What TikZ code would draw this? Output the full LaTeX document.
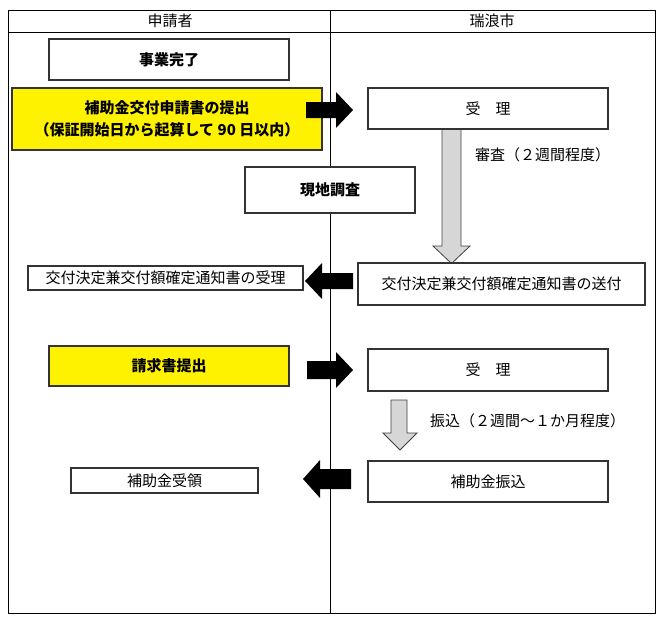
\documentclass[tikz,border=0pt]{standalone}
\usepackage{fontspec}
\setmainfont{Noto Sans CJK JP}
\usetikzlibrary{calc}
\begin{document}
\begin{tikzpicture}[x=1pt,y=-1pt,
  box/.style={draw=black!80, line width=1.1pt, fill=white, inner sep=0pt, align=center, font=\fontsize{15}{22}\selectfont},
  ybox/.style={box, fill=yellow, font=\fontsize{15}{22}\selectfont\bfseries},
  bbox/.style={box, font=\fontsize{15}{22}\selectfont\bfseries},
  lbl/.style={inner sep=0pt, font=\fontsize{15}{18}\selectfont},
  frame/.style={draw=black, line width=0.9pt},
  blk/.style={fill=black},
  gar/.style={fill=black!16, draw=black!75, line width=0.8pt, line join=miter}]
\useasboundingbox (0,0) rectangle (660,629);
% frame
\draw[frame] (8,10) rectangle (655,613);
\draw[frame] (8,32) -- (655,32);
\draw[frame] (330,10) -- (330,613);
\node[lbl] (h1) at (170,21) {申請者};
\node[lbl] (h2) at (492,21) {瑞浪市};
% grey down arrows (behind boxes)
\draw[gar] (442,128) -- (442,246) -- (433,246) -- (451.5,263.5) -- (470,246) -- (461,246) -- (461,128);
\draw[gar] (391,400) -- (391,433) -- (383,433) -- (400,450) -- (417,433) -- (407,433) -- (407,400) -- cycle;
% left column
\node[bbox, minimum width=240pt, minimum height=41pt] (done) at (169,59.5) {事業完了};
\node[ybox, minimum width=310pt, minimum height=62pt] (apply) at (167,119) {補助金交付申請書の提出\\（保証開始日から起算して 90 日以内）};
\node[bbox, minimum width=170pt, minimum height=46pt] (survey) at (330,190) {現地調査};
\node[box, minimum width=275pt, minimum height=24pt] (recv) at (165.5,278) {交付決定兼交付額確定通知書の受理};
\node[ybox, minimum width=240pt, minimum height=40pt] (claim) at (169,366) {請求書提出};
\node[box, minimum width=187pt, minimum height=25pt] (get) at (164.5,480.5) {補助金受領};
% right column
\node[box, minimum width=240pt, minimum height=41pt] (r1) at (488,108.5) {受　理};
\node[box, minimum width=287pt, minimum height=42pt] (send) at (501.5,284) {交付決定兼交付額確定通知書の送付};
\node[box, minimum width=240pt, minimum height=42pt] (r2) at (488,370) {受　理};
\node[box, minimum width=240pt, minimum height=41pt] (pay) at (488,481.5) {補助金振込};
\node[lbl, anchor=west] (l1) at (475,155) {審査（２週間程度）};
\node[lbl, anchor=west] (l2) at (430,421) {振込（２週間～１か月程度）};
% black block arrows
\coordinate (a1) at (306,110);
\coordinate (a2) at (353,281);
\coordinate (a3) at (307,370);
\coordinate (a4) at (351,479);
\fill[blk] ($(a1)+(0,-8)$) -- ++(30,0) -- ++(0,-10) -- ($(a1)+(47,0)$) -- ($(a1)+(30,18)$) -- ++(0,-10) -- ($(a1)+(0,8)$) -- cycle;
\fill[blk] ($(a3)+(0,-9)$) -- ++(29,0) -- ++(0,-9) -- ($(a3)+(46,0)$) -- ($(a3)+(29,18)$) -- ++(0,-9) -- ($(a3)+(0,9)$) -- cycle;
\fill[blk] ($(a2)+(0,-8)$) -- ++(-31,0) -- ++(0,-10) -- ($(a2)+(-48,0)$) -- ($(a2)+(-31,18)$) -- ++(0,-10) -- ($(a2)+(0,8)$) -- cycle;
\fill[blk] ($(a4)+(0,-10)$) -- ++(-31,0) -- ++(0,-9) -- ($(a4)+(-48,0)$) -- ($(a4)+(-31,19)$) -- ++(0,-9) -- ($(a4)+(0,10)$) -- cycle;
\end{tikzpicture}
\end{document}
